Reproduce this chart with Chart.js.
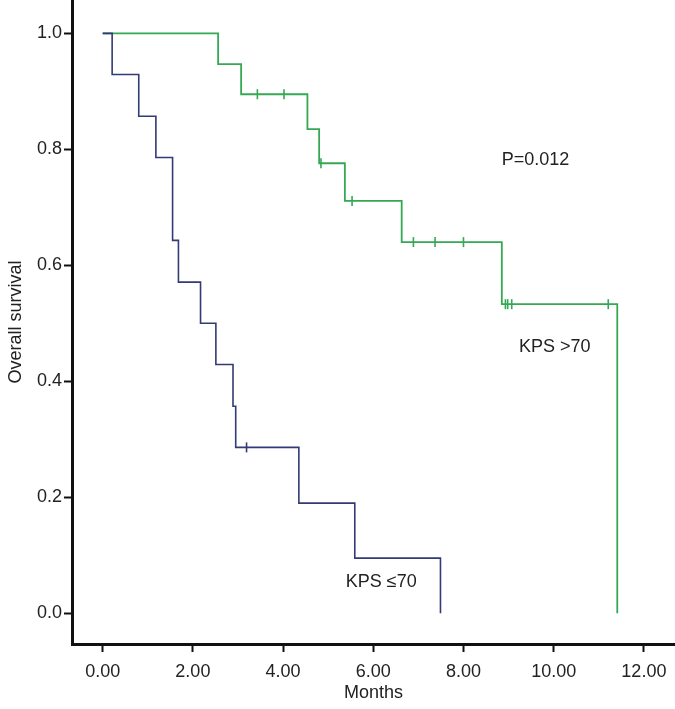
<!DOCTYPE html>
<html>
<head>
<meta charset="utf-8">
<script src="https://cdn.jsdelivr.net/npm/chart.js@4/dist/chart.umd.min.js"></script>
<style>
  body { margin: 0; background: #fff; }
  #wrap { width: 675px; height: 709px; }
</style>
</head>
<body>
<div id="wrap"><canvas id="kmChart" width="675" height="709"></canvas></div>
<script>
// Datos (meses / supervivencia)
const lowTimes = [0, 0.21, 0.80, 1.18, 1.55, 1.68, 2.17, 2.51, 2.89, 2.95, 4.35, 5.59, 7.49];
const lowSurv = [1.0, 0.929, 0.857, 0.786, 0.643, 0.571, 0.500, 0.429, 0.357, 0.286, 0.190, 0.095, 0.0];
const lowCensorTimes = [3.19];
const lowCensorSurv = [0.286];

const highTimes = [0, 2.56, 3.07, 4.54, 4.80, 5.37, 6.63, 8.85, 11.41];
const highSurv = [1.0, 0.947, 0.895, 0.835, 0.776, 0.711, 0.640, 0.533, 0.0];
const highCensorTimes = [3.43, 4.02, 4.84, 5.53, 6.89, 7.37, 8.00, 8.93, 8.98, 9.07, 11.21];
const highCensorSurv = [0.895, 0.895, 0.776, 0.711, 0.640, 0.640, 0.640, 0.533, 0.533, 0.533, 0.533];

const xTicks = [0, 2, 4, 6, 8, 10, 12];
const yTicks = [0, 0.2, 0.4, 0.6, 0.8, 1.0];

const labels = [
    { text: 'P=0.012', x: 8.85, y: 0.781 },
    { text: 'KPS >70', x: 9.23, y: 0.459 },
    { text: 'KPS \u226470', x: 5.39, y: 0.054 }
];

const BLUE = '#323a78';
const GREEN = '#35a853';

function toPoints(xs, ys) {
    return xs.map((x, i) => ({ x: x, y: ys[i] }));
}

Chart.defaults.font.family = '"Liberation Sans", Arial, Helvetica, sans-serif';
Chart.defaults.font.size = 18;
Chart.defaults.color = '#222';

// Textos dentro del gráfico
const textPlugin = {
    id: 'kmText',
    afterDatasetsDraw(chart) {
        const ctx = chart.ctx;
        const xs = chart.scales.x;
        const ys = chart.scales.y;
        ctx.save();
        ctx.fillStyle = '#222';
        ctx.font = '18px "Liberation Sans", Arial, sans-serif';
        ctx.textAlign = 'left';
        ctx.textBaseline = 'middle';
        labels.forEach(l => {
            ctx.fillText(l.text, xs.getPixelForValue(l.x), ys.getPixelForValue(l.y));
        });
        ctx.restore();
    }
};

const ctx = document.getElementById('kmChart');
new Chart(ctx, {
    type: 'line',
    data: {
        datasets: [{
            label: 'KPS \u226470',
            data: toPoints(lowTimes, lowSurv),
            borderColor: BLUE,
            borderWidth: 1.6,
            stepped: 'before',
            pointRadius: 0,
            fill: false
        }, {
            label: 'KPS >70',
            data: toPoints(highTimes, highSurv),
            borderColor: GREEN,
            borderWidth: 1.8,
            stepped: 'before',
            pointRadius: 0,
            fill: false
        }, {
            label: 'censored low',
            data: toPoints(lowCensorTimes, lowCensorSurv),
            showLine: false,
            pointStyle: 'line',
            rotation: 90,
            pointRadius: 5,
            borderColor: BLUE,
            pointBorderWidth: 1.6
        }, {
            label: 'censored high',
            data: toPoints(highCensorTimes, highCensorSurv),
            showLine: false,
            pointStyle: 'line',
            rotation: 90,
            pointRadius: 5,
            borderColor: GREEN,
            pointBorderWidth: 1.6
        }]
    },
    options: {
        responsive: false,
        animation: false,
        layout: { autoPadding: false, padding: 0 },
        plugins: {
            legend: { display: false },
            tooltip: { enabled: false }
        },
        scales: {
            x: {
                type: 'linear',
                min: -0.68,
                max: 12.69,
                afterBuildTicks: s => { s.ticks = xTicks.map(v => ({ value: v })); },
                afterFit: s => { s.height = 65; s.paddingLeft = 0; s.paddingRight = 0; },
                ticks: {
                    padding: 9,
                    maxRotation: 0,
                    callback: v => Number(v).toFixed(2)
                },
                grid: {
                    drawOnChartArea: false,
                    drawTicks: true,
                    tickLength: 8,
                    tickWidth: 2,
                    tickColor: '#111'
                },
                border: { display: true, color: '#111', width: 3 },
                title: {
                    display: true,
                    text: 'Months',
                    padding: { top: 0, bottom: 5 }
                }
            },
            y: {
                type: 'linear',
                min: -0.053,
                max: 1.0575,
                afterBuildTicks: s => { s.ticks = yTicks.map(v => ({ value: v })); },
                afterFit: s => { s.width = 72; s.paddingTop = 0; s.paddingBottom = 0; },
                ticks: {
                    padding: 2,
                    callback: v => Number(v).toFixed(1)
                },
                grid: {
                    drawOnChartArea: false,
                    drawTicks: true,
                    tickLength: 8,
                    tickWidth: 2,
                    tickColor: '#111'
                },
                border: { display: true, color: '#111', width: 3 },
                title: {
                    display: true,
                    text: 'Overall survival',
                    padding: { top: 5, bottom: 0 }
                }
            }
        }
    },
    plugins: [textPlugin]
});
</script>
</body>
</html>
